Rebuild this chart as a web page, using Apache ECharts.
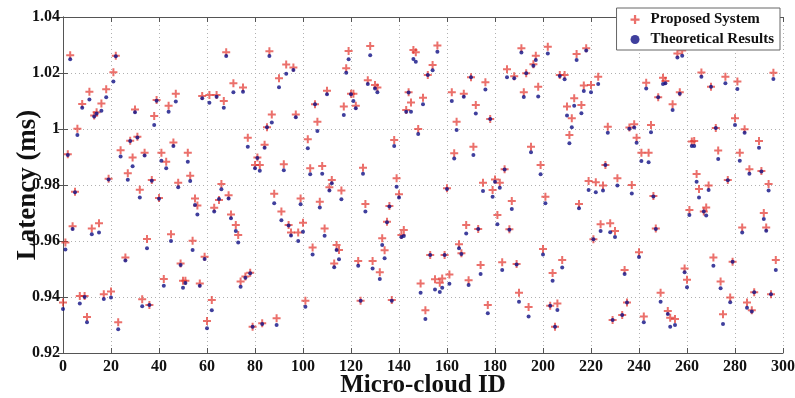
<!DOCTYPE html>
<html><head><meta charset="utf-8">
<script src="https://cdn.jsdelivr.net/npm/echarts@6/dist/echarts.min.js"></script>
<style>html,body{margin:0;padding:0;background:#fff}#c{width:795px;height:398px}</style>
</head><body><div id="c"></div>
<script>
const microCloudIds = [
0,1,2,3,4,5,6,7,8,9,10,11,12,13,14,15,16,17,18,19,20,21,22,23,24,26,27,28,29,30,31,32,33,
34,35,36,37,38,39,40,41,42,43,44,45,46,47,48,49,50,51,52,53,54,55,56,57,58,59,60,61,62,63,64,65,66,67,68,
69,70,71,72,73,74,75,76,77,78,79,80,81,82,83,84,85,86,87,88,89,90,91,92,93,94,95,96,97,98,99,100,
101,102,103,104,105,106,107,108,109,110,111,112,113,114,115,116,117,118,119,120,121,122,123,124,125,126,127,128,129,130,131,132,133,
134,135,136,137,138,139,140,141,142,143,144,145,146,147,148,149,150,151,152,153,154,155,156,157,158,159,160,161,162,163,164,165,166,167,
168,169,170,171,172,173,174,175,176,177,178,179,180,181,182,183,184,185,186,187,188,189,190,191,192,193,194,195,196,197,198,199,200,
201,202,203,204,205,206,207,208,209,210,211,212,213,214,215,216,217,218,219,220,221,222,223,224,225,226,227,228,229,230,231,
233,234,235,236,237,238,239,240,241,242,243,244,245,246,247,248,249,250,251,252,253,254,255,256,257,258,259,260,261,262,263,264,265,266,267,
268,269,270,271,272,273,274,275,276,277,278,279,280,281,282,283,284,285,286,287,288,290,291,292,293,294,295,296,297
];
const proposedSystem = [
0.9380,0.9595,0.9910,1.0263,0.9653,0.9776,1.0001,0.9404,1.0089,0.9404,0.9329,1.0133,0.9645,1.0048,1.0060,0.9663,1.0091,0.9410,1.0142,0.9822,0.9420,1.0203,1.0262,0.9310,0.9924,0.9541,0.9842,0.9958,0.9898,1.0070,0.9972,0.9783,0.9392,
0.9915,0.9607,0.9371,0.9818,1.0046,1.0104,0.9754,0.9915,0.9464,0.9883,1.0083,0.9624,0.9952,1.0126,0.9808,0.9520,0.9458,0.9458,0.9915,0.9833,0.9601,0.9752,0.9727,0.9448,1.0118,0.9544,0.9314,1.0121,0.9389,0.9719,1.0121,0.9746,0.9804,1.0100,1.0274,
0.9763,0.9695,1.0163,0.9657,0.9621,0.9455,1.0148,0.9473,0.9969,0.9487,0.9294,0.9871,0.9898,0.9871,0.9306,0.9944,1.0006,1.0278,1.0052,0.9769,0.9324,1.0181,0.9705,0.9874,1.0230,0.9657,0.9630,1.0220,1.0052,0.9630,0.9752,0.9665,
0.9387,0.9963,0.9860,0.9577,1.0088,1.0026,0.9740,0.9868,0.9645,1.0137,0.9792,0.9818,0.9520,0.9586,0.9568,0.9780,1.0080,1.0217,1.0279,1.0126,1.0126,1.0083,0.9529,0.9387,0.9862,0.9732,1.0174,1.0296,0.9529,1.0157,1.0148,0.9488,0.9610,
0.9567,0.9669,0.9725,0.9389,0.9961,0.9824,0.9767,0.9621,0.9639,1.0068,1.0131,1.0095,1.0282,1.0274,1.0000,0.9448,1.0112,0.9353,1.0193,0.9550,1.0229,0.9463,1.0298,0.9451,0.9466,0.9550,0.9788,0.9480,1.0131,0.9913,1.0026,0.9588,0.9556,1.0126,
0.9657,0.9460,1.0185,0.9937,1.0086,0.9643,0.9514,0.9808,1.0167,0.9371,1.0036,0.9782,0.9820,0.9693,0.9808,0.9524,0.9856,1.0213,0.9642,0.9743,1.0188,0.9518,0.9415,1.0288,1.0131,1.0199,0.9364,0.9937,1.0231,1.0262,1.0151,0.9871,0.9571,
0.9758,1.0294,0.9369,0.9486,0.9294,0.9377,1.0193,0.9532,1.0193,1.0080,0.9979,1.0038,1.0110,1.0268,0.9732,1.0086,1.0155,1.0288,0.9814,1.0157,0.9606,0.9810,1.0187,0.9660,0.9798,0.9871,1.0008,0.9663,0.9318,0.9636,0.9824,
0.9336,0.9496,0.9380,1.0005,0.9800,1.0017,0.9969,0.9560,0.9915,0.9330,1.0165,0.9915,1.0014,0.9761,0.9645,1.0113,0.9415,1.0183,1.0171,0.9350,0.9326,1.0088,0.9321,1.0270,1.0131,1.0280,0.9502,0.9462,0.9711,0.9955,0.9957,0.9839,0.9786,1.0202,0.9705,
0.9720,0.9798,1.0151,0.9541,1.0004,0.9923,0.9455,0.9338,1.0187,0.9818,0.9398,0.9526,1.0038,1.0170,0.9915,0.9648,0.9999,0.9380,0.9856,0.9353,0.9417,0.9957,0.9850,0.9700,0.9648,0.9804,0.9410,1.0201,0.9532
];
const theoreticalResults = [
0.9357,0.9570,0.9907,1.0249,0.9643,0.9774,0.9979,0.9377,1.0076,0.9400,0.9310,1.0105,0.9624,1.0045,1.0055,0.9630,1.0065,0.9393,1.0113,0.9820,0.9398,1.0170,1.0260,0.9285,0.9902,0.9530,0.9819,0.9957,0.9867,1.0060,0.9970,0.9755,0.9367,
0.9905,0.9574,0.9371,0.9815,1.0014,1.0101,0.9751,0.9887,0.9440,0.9860,1.0062,0.9600,0.9939,1.0098,0.9792,0.9514,0.9433,0.9450,0.9883,0.9814,0.9568,0.9729,0.9695,0.9440,1.0110,0.9536,0.9288,1.0094,0.9353,0.9705,1.0115,0.9750,0.9785,1.0076,1.0261,
0.9752,0.9681,1.0131,0.9636,0.9595,0.9437,1.0133,0.9469,0.9937,0.9485,0.9294,0.9860,0.9896,0.9851,0.9304,0.9933,1.0006,1.0261,1.0023,0.9735,0.9300,1.0149,0.9674,0.9853,1.0197,0.9655,0.9620,1.0211,1.0042,0.9600,0.9731,0.9633,
0.9365,0.9931,0.9838,0.9552,1.0088,0.9993,0.9720,0.9840,0.9619,1.0124,0.9780,0.9806,0.9506,0.9568,0.9535,0.9749,1.0050,1.0201,1.0249,1.0124,1.0100,1.0074,0.9512,0.9387,0.9840,0.9705,1.0161,1.0263,0.9502,1.0145,1.0131,0.9464,0.9586,
0.9538,0.9667,0.9723,0.9387,0.9939,0.9794,0.9755,0.9614,0.9618,1.0062,1.0130,1.0062,1.0250,1.0240,0.9982,0.9415,1.0088,0.9321,1.0193,0.9550,1.0210,0.9427,1.0276,0.9418,0.9433,0.9550,0.9786,0.9447,1.0100,0.9895,0.9996,0.9574,0.9554,1.0115,
0.9627,0.9443,1.0185,0.9907,1.0055,0.9643,0.9482,0.9779,1.0141,0.9342,1.0036,0.9758,0.9812,0.9660,0.9790,0.9496,0.9855,1.0185,0.9640,0.9714,1.0181,0.9516,0.9383,1.0273,1.0114,1.0199,0.9330,0.9917,1.0226,1.0246,1.0116,0.9838,0.9552,
0.9735,1.0270,0.9369,0.9458,0.9294,0.9354,1.0189,0.9505,1.0178,1.0048,0.9949,1.0006,1.0083,1.0246,0.9717,1.0056,1.0136,1.0280,0.9782,1.0131,0.9606,0.9774,1.0161,0.9636,0.9780,0.9871,0.9987,0.9631,0.9318,0.9614,0.9798,
0.9336,0.9482,0.9380,1.0001,0.9770,1.0005,0.9951,0.9543,0.9886,0.9310,1.0145,0.9881,0.9988,0.9759,0.9643,1.0113,0.9383,1.0161,1.0163,0.9339,0.9294,1.0068,0.9300,1.0255,1.0126,1.0262,0.9488,0.9435,0.9693,0.9939,0.9939,0.9812,0.9755,1.0187,0.9705,
0.9691,0.9782,1.0151,0.9512,1.0004,0.9893,0.9431,0.9304,1.0163,0.9817,0.9381,0.9526,1.0014,1.0143,0.9887,0.9630,0.9987,0.9362,0.9840,0.9348,0.9417,0.9933,0.9848,0.9679,0.9637,0.9780,0.9410,1.0179,0.9496
];
const xTickLabels = ['0','20','40','60','80','100','120','140','160','180','200','220','240','260','280','300'];
const yTickLabels = ['0.92','0.94','0.96','0.98','1','1.02','1.04'];
const seriesNames = ['Proposed System','Theoretical Results'];
const axisTitles = {x:'Micro-cloud ID', y:'Latency (ms)'};

const xMin = +xTickLabels[0], xMax = +xTickLabels[xTickLabels.length-1], xStep = xTickLabels[1]-xTickLabels[0];
const yMin = +yTickLabels[0], yMax = +yTickLabels[yTickLabels.length-1];
const yStep = 0.02;

const FONT = 'Liberation Serif';
const PLUS = 'path://M3,0H5V3H8V5H5V8H3V5H0V3H3Z';
const gridLine = {show:true, lineStyle:{color:'#b0b0b0', type:[1,3], width:1}};
const frame = {show:true, lineStyle:{color:'#555', width:1}};
const lbl = {color:'#111', fontFamily:FONT, fontWeight:'bold', fontSize:16};
const tick = {show:true, inside:true, length:5, lineStyle:{color:'#555'}};

const chart = echarts.init(document.getElementById('c'), null, {renderer:'canvas'});
chart.setOption({
  animation:false,
  backgroundColor:'#fff',
  grid:{left:63, right:12, top:17, bottom:45, containLabel:false, outerBoundsMode:'none'},
  legend:{
    orient:'vertical', right:15, top:8,
    backgroundColor:'#fff', borderColor:'#666', borderWidth:1,
    padding:[4,6,3,14], itemGap:5, itemWidth:9, itemHeight:9,
    textStyle:{color:'#111', fontFamily:FONT, fontWeight:'bold', fontSize:15, padding:[0,0,0,6]},
    data:[{name:seriesNames[0], icon:PLUS}, {name:seriesNames[1], icon:'circle'}]
  },
  xAxis:[{
    type:'value', min:xMin, max:xMax, interval:xStep,
    name:axisTitles.x, nameLocation:'middle', nameGap:20, nameMoveOverlap:false,
    nameTextStyle:{color:'#111', fontFamily:FONT, fontWeight:'bold', fontSize:25},
    axisLine:frame, axisTick:tick,
    axisLabel:Object.assign({margin:6}, lbl), splitLine:gridLine
  },{
    type:'value', position:'top', min:xMin, max:xMax, interval:xStep,
    axisLine:frame, axisTick:tick, axisLabel:{show:false}, splitLine:{show:false}
  }],
  yAxis:[{
    type:'value', min:yMin, max:yMax, interval:yStep,
    name:axisTitles.y, nameLocation:'middle', nameGap:21, nameMoveOverlap:false,
    nameTextStyle:{color:'#111', fontFamily:FONT, fontWeight:'bold', fontSize:27},
    axisLine:frame, axisTick:tick,
    axisLabel:Object.assign({margin:3, formatter:v=>String(parseFloat(v.toFixed(2)))}, lbl),
    splitLine:gridLine
  },{
    type:'value', position:'right', min:yMin, max:yMax, interval:yStep,
    axisLine:frame, axisTick:tick, axisLabel:{show:false}, splitLine:{show:false}
  }],
  series:[{
    name:seriesNames[0], type:'scatter', xAxisIndex:0, yAxisIndex:0,
    symbol:PLUS, symbolSize:8,
    itemStyle:{color:'rgba(225,45,38,0.85)'},
    data:microCloudIds.map((id,i)=>[id, proposedSystem[i]])
  },{
    name:seriesNames[1], type:'scatter', xAxisIndex:0, yAxisIndex:0,
    symbol:'circle', symbolSize:4,
    itemStyle:{color:'#0f0f85'},
    data:microCloudIds.map((id,i)=>[id, theoreticalResults[i]])
  }]
});
</script></body></html>
